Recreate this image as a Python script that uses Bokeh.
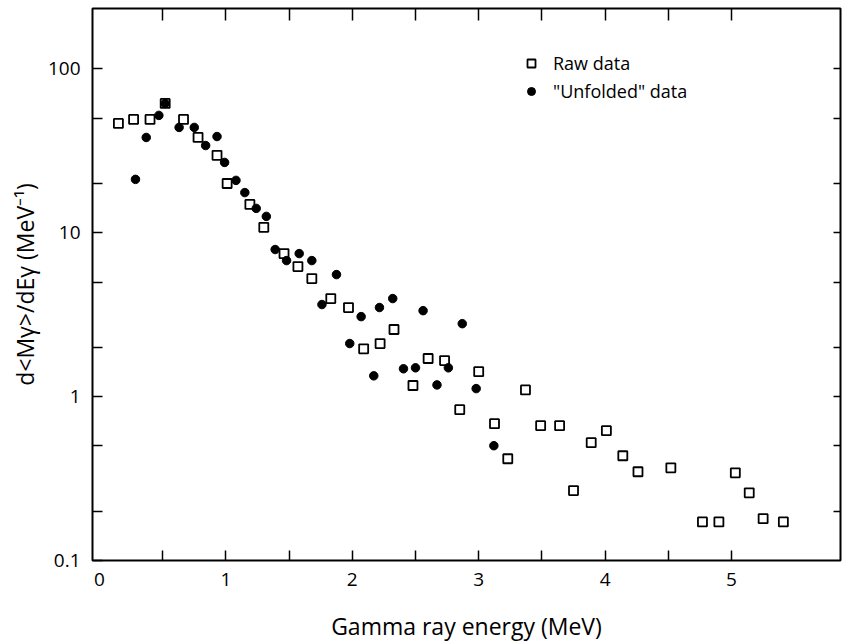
from bokeh.plotting import figure
from bokeh.models import (LinearAxis, LogAxis, FixedTicker, CustomJSTickFormatter,
                          Legend, LegendItem, ColumnDataSource, Range1d)
from bokeh.embed import file_html
from bokeh.resources import INLINE

# Gamma-ray multiplicity spectrum: raw and "unfolded" values (MeV, per MeV)
raw_energy = [0.15, 0.27, 0.40, 0.52, 0.665, 0.78, 0.93, 1.01, 1.19, 1.30,
              1.46, 1.57, 1.68, 1.83, 1.97, 2.09, 2.22, 2.33, 2.48, 2.60,
              2.73, 2.85, 3.00, 3.125, 3.23, 3.37, 3.49, 3.64, 3.75, 3.89,
              4.01, 4.14, 4.26, 4.52, 4.77, 4.90, 5.03, 5.14, 5.25, 5.41]
raw_yield = [46.5, 49.2, 49.2, 61.6, 49.2, 38.2, 29.7, 20.0, 14.9, 10.8,
             7.47, 6.22, 5.26, 3.97, 3.50, 1.96, 2.11, 2.57, 1.17, 1.71,
             1.66, 0.833, 1.42, 0.684, 0.418, 1.10, 0.665, 0.665, 0.267, 0.524,
             0.620, 0.436, 0.348, 0.368, 0.172, 0.172, 0.343, 0.259, 0.180, 0.172]

unfolded_energy = [0.285, 0.37, 0.47, 0.52, 0.63, 0.75, 0.84, 0.93, 0.99, 1.08,
                   1.15, 1.24, 1.32, 1.39, 1.48, 1.58, 1.68, 1.875, 1.76, 2.07,
                   2.215, 2.32, 2.56, 1.98, 2.17, 2.405, 2.50, 2.76, 2.67, 2.87,
                   2.98, 3.12]
unfolded_yield = [21.2, 38.2, 52.1, 61.6, 44.0, 44.0, 34.1, 38.7, 26.9, 20.9,
                  17.6, 14.1, 12.6, 7.91, 6.77, 7.47, 6.77, 5.56, 3.65, 3.08,
                  3.50, 3.97, 3.35, 2.11, 1.34, 1.48, 1.50, 1.50, 1.18, 2.79,
                  1.12, 0.502]

x_label_ticks = [0, 1, 2, 3, 4, 5]
x_mark_ticks = [0.5, 1.0, 1.5, 2.0, 2.5, 3.0, 3.5, 4.0, 4.5, 5.0]
y_label_ticks = [0.1, 1, 10, 100]
y_mark_ticks = [0.2, 0.5, 2, 5, 20, 50]

FONT = "Open Sans"

p = figure(width=848, height=644,
           x_range=Range1d(-0.055, 5.862), y_range=Range1d(0.1, 234),
           y_axis_type="log", output_backend="svg", toolbar_location=None,
           min_border_left=92, min_border_right=8, min_border_top=8,
           min_border_bottom=84)
p.grid.visible = False
p.outline_line_color = "black"
p.outline_line_width = 2
p.background_fill_color = "white"
p.border_fill_color = "white"

raw_src = ColumnDataSource(dict(x=raw_energy, y=raw_yield))
unf_src = ColumnDataSource(dict(x=unfolded_energy, y=unfolded_yield))

r_raw = p.scatter("x", "y", source=raw_src, marker="square", size=9,
                  fill_color="white", line_color="black", line_width=1.8)
r_unf = p.scatter("x", "y", source=unf_src, marker="circle", size=8.5,
                  fill_color="black", line_color="black")

# bottom axis: integer labels, half-MeV tick marks
xa = p.xaxis[0]
xa.ticker = FixedTicker(ticks=x_label_ticks, minor_ticks=x_mark_ticks)
xa.major_tick_in = 0
xa.major_tick_out = 0
xa.minor_tick_in = 10
xa.minor_tick_out = 0
xa.minor_tick_line_width = 1.5
xa.axis_line_color = None
xa.major_label_standoff = 12
xa.major_label_text_font = FONT
xa.major_label_text_font_size = "19px"
xa.major_label_text_color = "black"
xa.axis_label = "Gamma ray energy (MeV)"
xa.axis_label_text_font = FONT
xa.axis_label_text_font_size = "23px"
xa.axis_label_text_font_style = "normal"
xa.axis_label_standoff = 21
xa.axis_label_text_color = "black"

# left axis: decade labels, 1-2-5 tick marks
ya = p.yaxis[0]
ya.ticker = FixedTicker(ticks=y_label_ticks, minor_ticks=y_mark_ticks)
ya.formatter = CustomJSTickFormatter(code="return tick < 1 ? tick.toFixed(1) : tick.toFixed(0);")
ya.major_tick_in = 10
ya.major_tick_out = 0
ya.minor_tick_in = 10
ya.minor_tick_out = 0
ya.major_tick_line_width = 1.5
ya.minor_tick_line_width = 1.5
ya.axis_line_color = None
ya.major_label_standoff = 12
ya.major_label_text_font = FONT
ya.major_label_text_font_size = "19px"
ya.major_label_text_color = "black"
ya.axis_label = "d<M\u03b3>/dE\u03b3 (MeV\u207b\u00b9)"
ya.axis_label_text_font = FONT
ya.axis_label_text_font_size = "23px"
ya.axis_label_text_font_style = "normal"
ya.axis_label_standoff = 4
ya.axis_label_text_color = "black"

blank = CustomJSTickFormatter(code="return '';")

top = LinearAxis(ticker=FixedTicker(ticks=x_mark_ticks), formatter=blank,
                 major_tick_in=12, major_tick_out=0, major_tick_line_width=1.5,
                 axis_line_color=None, major_label_standoff=0,
                 major_label_text_font_size="1px")
p.add_layout(top, "above")

right = LogAxis(ticker=FixedTicker(ticks=y_mark_ticks + [1, 10, 100]), formatter=blank,
                major_tick_in=7, major_tick_out=0, major_tick_line_width=1.5,
                axis_line_color=None, major_label_standoff=0,
                major_label_text_font_size="1px")
p.add_layout(right, "right")

legend = Legend(items=[LegendItem(label="Raw data", renderers=[r_raw]),
                       LegendItem(label='"Unfolded" data', renderers=[r_unf])],
                location=(429, 457), border_line_color=None,
                background_fill_alpha=0, padding=0, spacing=4,
                glyph_width=20, glyph_height=20, label_standoff=12,
                label_text_font=FONT, label_text_font_size="18px",
                label_text_color="black")
p.add_layout(legend)

open("out.html", "w").write(file_html(p, INLINE))
